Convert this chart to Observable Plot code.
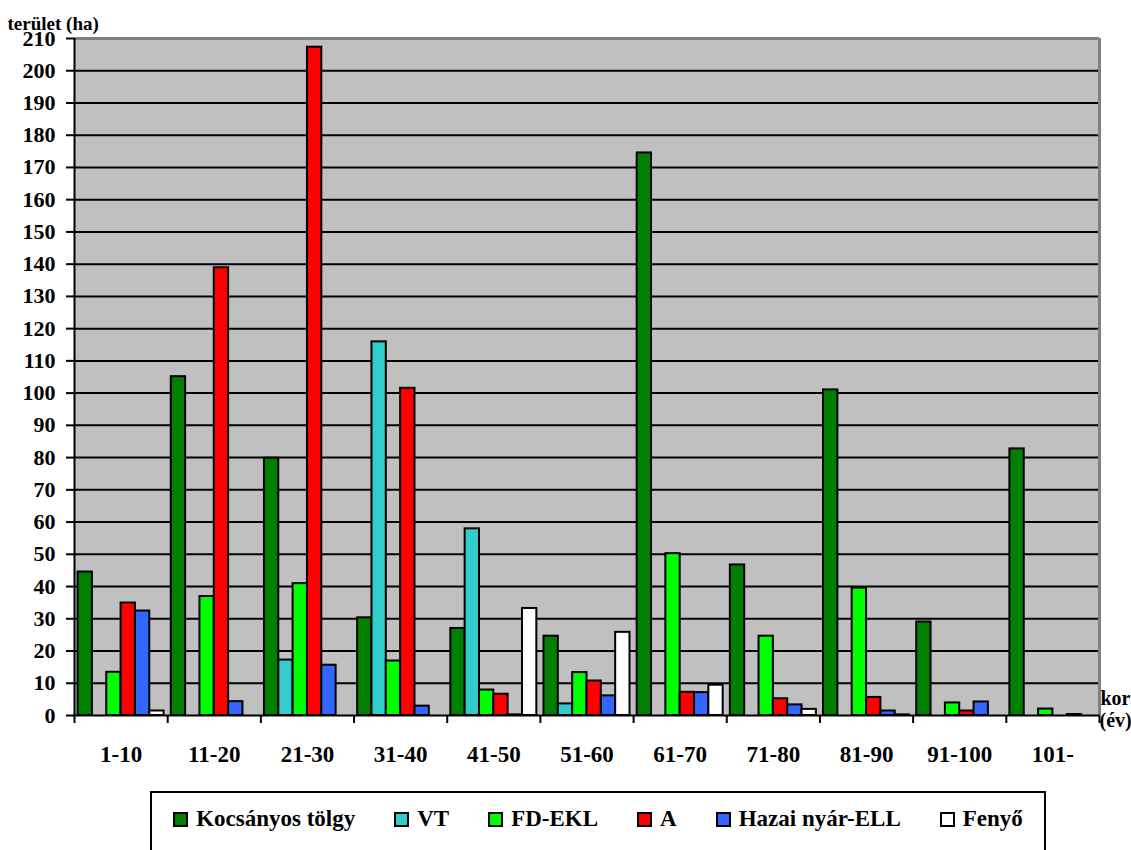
<!DOCTYPE html>
<html>
<head>
<meta charset="utf-8">
<script src="https://cdn.jsdelivr.net/npm/d3@7"></script>
<script src="https://cdn.jsdelivr.net/npm/@observablehq/plot@0.6"></script>
<style>
  html, body { margin: 0; padding: 0; background: white; }
  #chart svg { display: block; }
  #chart svg text { font-family: "Liberation Serif", "DejaVu Serif", serif !important; }
  #legend {
    box-sizing: border-box;
    margin-left: 150px; margin-top: 6px;
    width: 896px; height: 70px;
    border: 2px solid black;
    padding-top: 11px;
    display: flex; justify-content: center; gap: 39px;
    font-family: "Liberation Serif", "DejaVu Serif", serif;
    font-weight: bold; font-size: 23px; color: black;
  }
  .item { display: flex; align-items: center; height: 30px; white-space: nowrap; }
  .sw { box-sizing: border-box; width: 15px; height: 15px; border: 2px solid black; margin-right: 8px; }
</style>
</head>
<body>
<div id="chart"></div>
<div id="legend"></div>
<script>
const categories = ["1-10", "11-20", "21-30", "31-40", "41-50", "51-60", "61-70", "71-80", "81-90", "91-100", "101-"];
const series = ["Kocsányos tölgy", "VT", "FD-EKL", "A", "Hazai nyár-ELL", "Fenyő"];
const colors = ["#008000", "#33cccc", "#00ff00", "#ff0000", "#3366ff", "#ffffff"];

const kocsanyos = [44.5, 105.1, 79.8, 30.3, 27.0, 24.6, 174.5, 46.7, 101.0, 29.0, 82.7];
const vt        = [0, 0, 17.2, 115.9, 57.9, 3.6, 0, 0, 0, 0, 0];
const fdekl     = [13.4, 36.9, 40.9, 16.9, 7.9, 13.3, 50.2, 24.6, 39.5, 3.9, 2.0];
const akac      = [34.9, 138.9, 207.3, 101.5, 6.6, 10.7, 7.2, 5.2, 5.6, 1.4, 0];
const hazai     = [32.4, 4.3, 15.6, 2.9, 0.2, 6.1, 7.1, 3.3, 1.4, 4.2, 0.3];
const fenyo     = [1.4, 0, 0, 0, 33.2, 25.8, 9.4, 1.9, 0.2, 0, 0];

const yTicks = d3.range(0, 211, 10);
const values = [kocsanyos, vt, fdekl, akac, hazai, fenyo];

const rows = [];
categories.forEach((cat, i) => {
  series.forEach((s, j) => {
    const v = values[j][i];
    if (v > 0) rows.push({cat, series: s, value: v, i, j});
  });
});

const gap = 0.5;                 // gap width relative to one bar
const w = 1 / (series.length + gap);
const pad = (gap / 2) * w;

const font = '"Liberation Serif", "DejaVu Serif", serif';

const chart = Plot.plot({
  width: 1131,
  height: 785,
  marginLeft: 74,
  marginRight: 32,
  marginTop: 38,
  marginBottom: 70,
  x: {domain: [0, categories.length], axis: null},
  y: {domain: [0, 210], axis: null},
  color: {domain: series, range: colors},
  style: {fontFamily: font, fontWeight: "bold", background: "white", color: "black", overflow: "visible"},
  marks: [
    Plot.frame({fill: "#c0c0c0"}),
    Plot.ruleY(yTicks.filter(t => t > 0 && t < 210), {stroke: "black", strokeWidth: 2}),
    Plot.ruleY([210], {stroke: "#808080", strokeWidth: 3}),
    Plot.ruleX([categories.length], {stroke: "#808080", strokeWidth: 3}),
    Plot.rect(rows, {
      x1: d => d.i + pad + d.j * w,
      x2: d => d.i + pad + (d.j + 1) * w,
      y1: 0,
      y2: "value",
      fill: "series",
      stroke: "black",
      strokeWidth: 2
    }),
    Plot.ruleY([0], {stroke: "black", strokeWidth: 2}),
    Plot.ruleX([0], {stroke: "black", strokeWidth: 2}),
    Plot.axisY({ticks: yTicks, tickSize: 8, tickPadding: 11, fontSize: 22, label: null, strokeWidth: 2, tickFormat: d => String(d)}),
    Plot.axisX({ticks: d3.range(categories.length + 1), tickSize: 8, tickFormat: () => "", label: null, strokeWidth: 2}),
    Plot.axisX({ticks: categories.map((c, i) => i + 0.5), tickFormat: d => categories[Math.floor(d)], tickSize: 0, tickPadding: 30, fontSize: 23, label: null}),
    Plot.text(["terület (ha)"], {frameAnchor: "top-left", dx: -67, dy: -22, textAnchor: "start", fontSize: 19}),
    Plot.text(["kor"], {x: categories.length, y: 0, dx: 1, dy: -17, textAnchor: "start", fontSize: 20}),
    Plot.text(["(év)"], {x: categories.length, y: 0, dx: 0, dy: 5, textAnchor: "start", fontSize: 20})
  ]
});
document.getElementById("chart").appendChild(chart);

const legend = document.getElementById("legend");
series.forEach((s, j) => {
  const item = document.createElement("div");
  item.className = "item";
  const sw = document.createElement("span");
  sw.className = "sw";
  sw.style.background = colors[j];
  const label = document.createElement("span");
  label.textContent = s;
  item.appendChild(sw);
  item.appendChild(label);
  legend.appendChild(item);
});
</script>
</body>
</html>
